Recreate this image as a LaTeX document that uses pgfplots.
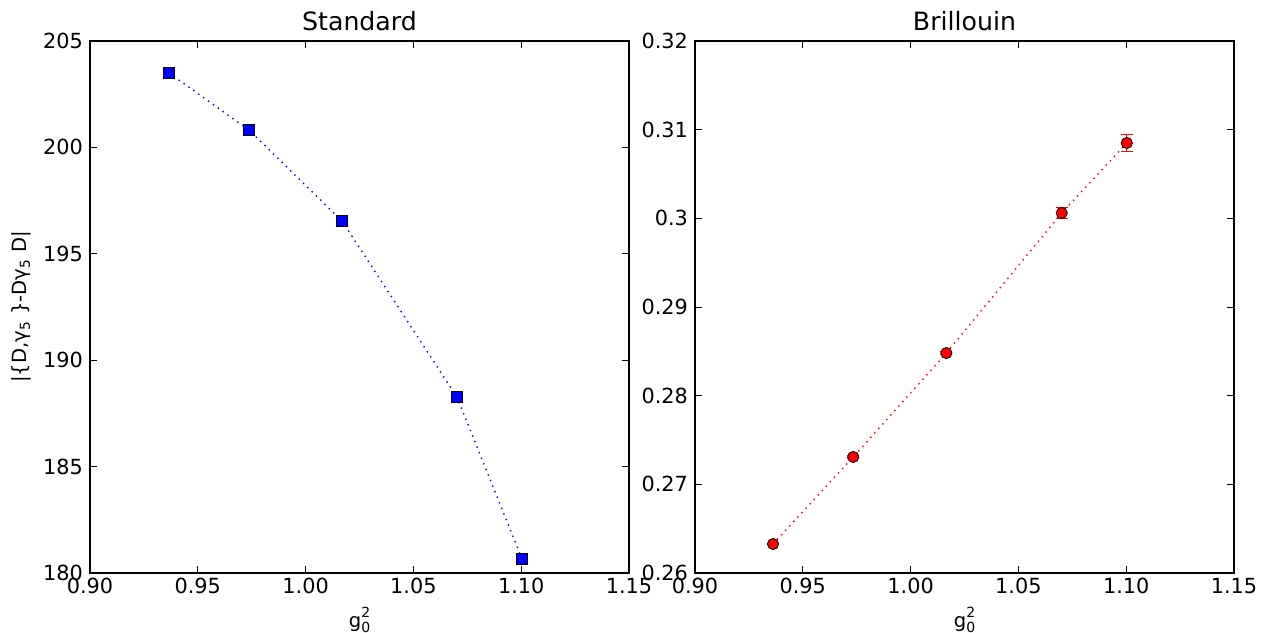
\documentclass[border=0pt]{standalone}
\usepackage{pgfplots}
\pgfplotsset{compat=1.18}
\usepackage{fontspec}
\setmainfont{DejaVu Sans}
\begin{document}
\begin{tikzpicture}[x=0.5pt,y=0.5pt]
\path[use as bounding box] (-90,-60) rectangle (1176,573);
\pgfplotsset{
  every axis/.append style={
    scale only axis, width=269.5pt, height=266pt,
    xmin=0.90, xmax=1.15,
    xtick={0.90,0.95,1.00,1.05,1.10,1.15},
    xticklabel style={/pgf/number format/fixed,/pgf/number format/precision=2,/pgf/number format/fixed zerofill},
    /pgf/number format/assume math mode=true,
    tick label style={font=\fontsize{10.4}{11}\selectfont},
    label style={font=\fontsize{9.8}{11}\selectfont},
    title style={font=\fontsize{12.6}{14}\selectfont, yshift=-4.5pt},
    major tick length=3.5pt,
    minor tick num=0,
    tick style={black, line width=0.4pt},
    axis line style={line width=0.6pt},
    xlabel={g\makebox[0pt][l]{\raisebox{0.9ex}{\fontsize{7}{8}\selectfont 2}}\raisebox{-0.45ex}{\fontsize{7}{8}\selectfont 0}},
    xlabel style={yshift=0pt},
    xticklabel style={yshift=1pt},
    scaled ticks=false,
  }
}
\begin{axis}[at={(0pt,0pt)}, anchor=south west,
  title={Standard},
  ymin=180, ymax=205, ytick={180,185,190,195,200,205},
  yticklabel style={/pgf/number format/fixed,/pgf/number format/precision=0},
  ylabel={|\{D,γ\textsubscript{5} \}-Dγ\textsubscript{5} D|},
  ylabel style={yshift=-1pt},
]
\addplot[blue, dash pattern=on 0.7pt off 2.3pt, line width=0.7pt, mark=square*, mark size=2.75pt,
  mark options={solid, fill=blue, draw=black, line width=0.4pt}]
  coordinates {(0.9366,203.50) (0.9737,200.82) (1.0169,196.54) (1.0702,188.27) (1.1004,180.66)};
\end{axis}
\begin{axis}[at={(302.5pt,0pt)}, anchor=south west,
  title={Brillouin},
  ymin=0.26, ymax=0.32, ytick={0.26,0.27,0.28,0.29,0.30,0.31,0.32},
  yticklabel style={/pgf/number format/fixed,/pgf/number format/precision=2},
]
\addplot[red, dash pattern=on 0.7pt off 2.3pt, line width=0.7pt, mark=*, mark size=2.8pt,
  mark options={solid, fill=red, draw=black, line width=0.4pt},
  error bars/.cd, y dir=both, y explicit,
  error bar style={red, solid, line width=0.5pt},
  error mark options={rotate=90, mark size=3pt, red, solid, line width=0.5pt}]
  coordinates {(0.9362,0.26327) +- (0,0.0001) (0.9734,0.27309) +- (0,0.0002) (1.0166,0.28481) +- (0,0.0002) (1.0701,0.30060) +- (0,0.00065) (1.1003,0.30850) +- (0,0.00094)};
\end{axis}
\end{tikzpicture}
\end{document}
